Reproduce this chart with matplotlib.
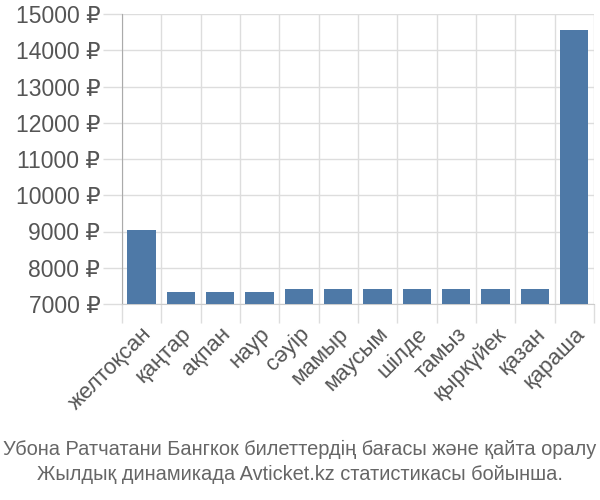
import numpy as np
import matplotlib
matplotlib.use("Agg")
import matplotlib.pyplot as plt

# month labels (kazakh) and ticket prices
months = ["желтоқсан", "қаңтар", "ақпан", "наур", "сәуір", "мамыр",
          "маусым", "шілде", "тамыз", "қыркүйек", "қазан", "қараша"]
prices = [9040, 7320, 7320, 7320, 7410, 7410, 7410, 7410, 7410, 7410, 7410, 14560]
yticks = [7000, 8000, 9000, 10000, 11000, 12000, 13000, 14000, 15000]

caption = ("Убона Ратчатани Бангкок билеттердің бағасы және қайта оралу\n"
           "Жылдық динамикада Avticket.kz статистикасы бойынша.")

plt.rcParams['font.family'] = ['Liberation Sans', 'DejaVu Sans']

fig = plt.figure(figsize=(6, 5), dpi=100)
ax = fig.add_axes([0.203, 0.392, 0.787, 0.580])

x = np.arange(len(months))
ax.bar(x, prices, width=0.72, color="#4e79a7", zorder=3)

ax.set_xlim(-0.5, len(months) - 0.5)
ax.set_ylim(7000, 15000)

# grid: horizontal at price ticks, vertical between categories
ax.set_yticks(yticks)
ax.set_yticklabels([f"{v} ₽" for v in yticks])
ax.set_xticks(x)
ax.set_xticklabels(months, rotation=45, ha="right", rotation_mode="anchor")
ax.set_xticks(np.arange(len(months) + 1) - 0.5, minor=True)

ax.grid(True, axis="y", color="#dddddd", linewidth=1, zorder=0)
ax.grid(True, axis="x", which="minor", color="#dddddd", linewidth=1, zorder=0)
ax.tick_params(axis="x", which="major", length=0, pad=14, labelsize=16, labelcolor="#555555")
ax.tick_params(axis="x", which="minor", length=14, color="#dddddd", width=1)
ax.tick_params(axis="y", length=14, color="#dddddd", width=1, pad=1.5,
               labelsize=16.5, labelcolor="#555555")

for s in ["top", "right"]:
    ax.spines[s].set_visible(False)
ax.spines["left"].set_color("#aaaaaa")
ax.spines["bottom"].set_color("#cccccc")

fig.text(0.5, 0.076, caption, ha="center", va="center", fontsize=14.4,
         color="#666666", linespacing=1.4)

fig.savefig("out.png", dpi=100)
